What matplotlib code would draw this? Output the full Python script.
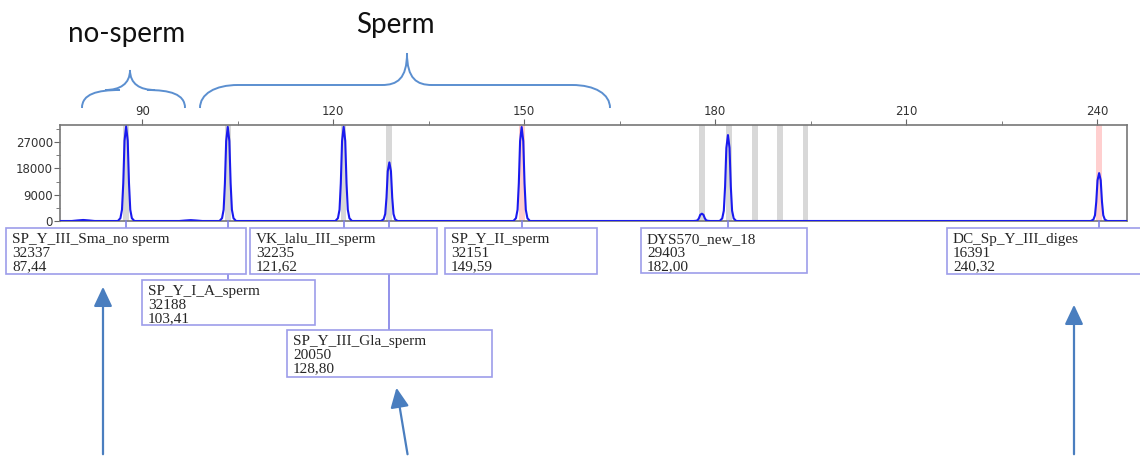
import matplotlib
matplotlib.use("Agg")
import matplotlib.pyplot as plt
from matplotlib.path import Path
from matplotlib.patches import PathPatch, Rectangle, FancyArrowPatch
from matplotlib.lines import Line2D
import matplotlib.transforms as mtransforms

# peaks called by the software (size bp, height rfu, label)
peak_size = [87.44, 103.41, 121.62, 128.80, 149.59, 182.00, 240.32]
peak_height = [32337, 32188, 32235, 20050, 32151, 29403, 16391]
peak_name = ["SP_Y_III_Sma_no sperm", "SP_Y_I_A_sperm", "VK_lalu_III_sperm",
             "SP_Y_III_Gla_sperm", "SP_Y_II_sperm", "DYS570_new_18",
             "DC_Sp_Y_III_diges"]
peak_label_size = ["87,44", "103,41", "121,62", "128,80", "149,59", "182,00", "240,32"]

# small uncalled peaks / baseline bumps
minor_size = [80.7, 97.6, 177.9]
minor_height = [350, 300, 2500]

# bins (gray = normal, pink = highlighted)
gray_bins = [87.44, 103.4, 121.6, 128.8, 177.9, 182.2, 186.2, 190.2, 194.2]
pink_bins = [149.6, 240.3]

# peak shape (offset in bp, relative height)
shape_dx = [-1.3, -0.9, -0.65, -0.45, -0.25, 0.0, 0.25, 0.45, 0.65, 0.9, 1.3]
shape_rel = [0, 0.03, 0.12, 0.4, 0.85, 1.0, 0.85, 0.4, 0.12, 0.03, 0]
bump_dx = [-1.8, -0.9, 0.0, 0.9, 1.8]
bump_rel = [0, 0.55, 1.0, 0.55, 0]

W, H = 1140, 457


def px(x, y):
    return (x / W, 1 - y / H)


fig = plt.figure(figsize=(11.4, 4.57), dpi=100)
ax = fig.add_axes([60 / W, 1 - 221 / H, (1127 - 60) / W, (221 - 125) / H])

# bins
for b in gray_bins:
    ax.axvspan(b - 0.45, b + 0.45, color="#d8d8d8", lw=0, zorder=0)
for b in pink_bins:
    ax.axvspan(b - 0.45, b + 0.45, color="#ffcfcf", lw=0, zorder=0)

# trace
pts = []
for s, h in zip(peak_size, peak_height):
    pts += [(s + d, h * r) for d, r in zip(shape_dx, shape_rel)]
for s, h in zip(minor_size, minor_height):
    if h > 1000:
        pts += [(s + d, h * r) for d, r in zip(shape_dx, shape_rel)]
    else:
        pts += [(s + d, h * r) for d, r in zip(bump_dx, bump_rel)]
pts.sort()
xs = [77.0] + [p[0] for p in pts] + [245.0]
ys = [0] + [p[1] for p in pts] + [0]
ax.plot(xs, ys, color="#1a1aee", lw=1.5, zorder=3)

ax.set_xlim(77.05, 244.7)
ax.set_ylim(0, 32850)
ax.xaxis.tick_top()
ax.set_xticks([90, 120, 150, 180, 210, 240])
ax.set_xticks([105, 135, 165, 195, 225], minor=True)
ax.set_yticks([0, 9000, 18000, 27000])
ax.set_yticks([4500, 13500, 22500, 31500], minor=True)
ax.tick_params(axis="both", which="both", direction="out", color="#666666",
               labelsize=8.5, labelcolor="#333333", pad=1)
ax.tick_params(axis="both", which="major", length=4)
ax.tick_params(axis="both", which="minor", length=3)
for sp in ax.spines.values():
    sp.set_color("#777777")
    sp.set_linewidth(1.2)

# label boxes: (left, top, right, bottom) in pixels
boxes = [(6, 228, 246, 274), (142, 280, 315, 325), (250, 228, 437, 274),
         (287, 330, 492, 377), (445, 228, 597, 274), (641, 228, 807, 273),
         (947, 228, 1150, 274)]

blend = mtransforms.blended_transform_factory(ax.transData, fig.transFigure)
box_col = "#9d9dea"
for s, (l, t, r, b) in zip(peak_size, boxes):
    fig.add_artist(Line2D([s, s], [1 - 221 / H, 1 - t / H], transform=blend,
                          color="#7f7fe6", lw=1.2, zorder=1))

for i, (l, t, r, b) in enumerate(boxes):
    x0, y0 = px(l, b)
    x1, y1 = px(r, t)
    fig.add_artist(Rectangle((x0, y0), x1 - x0, y1 - y0, transform=fig.transFigure,
                             facecolor="white", edgecolor=box_col, lw=1.2, zorder=2))
    lines = [peak_name[i], str(peak_height[i]), peak_label_size[i]]
    for k, txt in enumerate(lines):
        fig.text(*px(l + 6, t + 15.5 + 13.5 * k), txt, family="Liberation Serif",
                 fontsize=11, color="#262626", zorder=3)

# arrows
arrow_col = "#4a7ebf"
arrows = [((103, 457), (103, 284)), ((408, 457), (396, 385)), ((1074, 457), (1074, 302))]
for a, b in arrows:
    fig.add_artist(FancyArrowPatch(px(*a), px(*b), transform=fig.transFigure,
                                   arrowstyle="-|>,head_length=0.85,head_width=0.4",
                                   mutation_scale=14, color=arrow_col, lw=1.6))


# curly braces
def brace(x0, x1, xc, yend, ymid, ytip):
    verts = [(x0, yend), (x0, yend - 14), (x0 + 15, ymid), (x0 + 38, ymid),
             (xc - 25, ymid),
             (xc - 10, ymid), (xc, ymid - 6), (xc, ytip),
             (xc, ymid - 6), (xc + 10, ymid), (xc + 25, ymid),
             (x1 - 38, ymid),
             (x1 - 15, ymid), (x1, yend - 14), (x1, yend)]
    codes = [Path.MOVETO, Path.CURVE4, Path.CURVE4, Path.CURVE4, Path.LINETO,
             Path.CURVE4, Path.CURVE4, Path.CURVE4,
             Path.CURVE4, Path.CURVE4, Path.CURVE4, Path.LINETO,
             Path.CURVE4, Path.CURVE4, Path.CURVE4]
    path = Path([px(*v) for v in verts], codes)
    fig.add_artist(PathPatch(path, transform=fig.transFigure, facecolor="none",
                             edgecolor="#5b8fd0", lw=1.4))


brace(82, 185, 130, 108, 90, 70)
brace(200, 610, 407, 108, 85, 53)

fig.text(*px(127, 42), "no-sperm", family="Lato", fontsize=20, ha="center", color="#111111")
fig.text(*px(395, 33), "Sperm", family="Lato", fontsize=20, ha="center", color="#111111")

fig.savefig("out.png", dpi=100)
